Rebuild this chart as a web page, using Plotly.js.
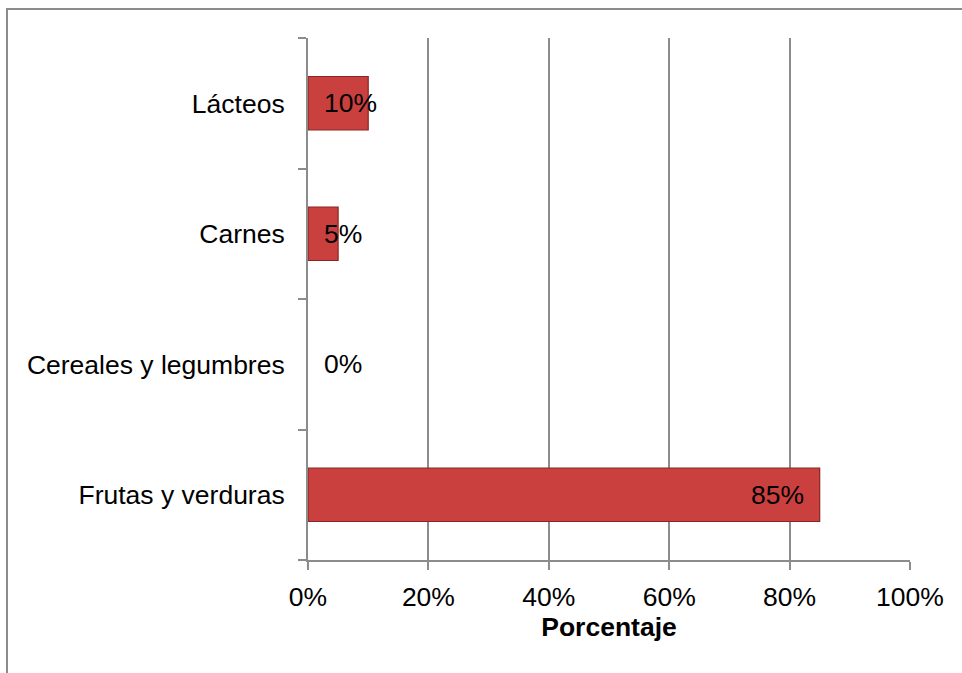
<!DOCTYPE html>
<html>
<head>
<meta charset="utf-8">
<script src="https://cdn.plot.ly/plotly-3.0.1.min.js"></script>
<style>
html,body{margin:0;padding:0;overflow:hidden;background:#fff;}
#chart{width:962px;height:673px;position:relative;}
#frame{position:absolute;left:6px;top:8px;width:1200px;height:1200px;border-left:2px solid #8c8c8c;border-top:2px solid #8c8c8c;pointer-events:none;}
</style>
</head>
<body>
<div id="chart"></div>
<div id="frame"></div>
<script>
const categories = ["Frutas y verduras", "Cereales y legumbres", "Carnes", "Lácteos"];
const values = [85, 0, 5, 10];
const labels = ["85%", "0%", "5%", "10%"];
const xTicks = [0, 20, 40, 60, 80, 100];
const xTickText = ["0%", "20%", "40%", "60%", "80%", "100%"];

const FONT = "Liberation Sans, Arial, sans-serif";
const FS = 26.5;

const trace = {
  type: "bar",
  orientation: "h",
  y: categories,
  x: values,
  marker: {
    color: "rgb(202,64,62)",
    line: {color: "rgb(135,38,36)", width: values.map(v => v > 0 ? 1.2 : 0)}
  },
  hoverinfo: "none"
};

const annotations = values.map((v, i) => (v >= 50 ? {
  x: v, y: categories[i], xref: "x", yref: "y", text: labels[i],
  showarrow: false, xanchor: "right", xshift: -14,
  font: {family: FONT, size: FS, color: "#000"}
} : {
  x: 0, y: categories[i], xref: "x", yref: "y", text: labels[i],
  showarrow: false, xanchor: "left", xshift: 14,
  font: {family: FONT, size: FS, color: "#000"}
}));

const layout = {
  width: 962, height: 673,
  margin: {l: 308, r: 52, t: 38, b: 113, autoexpand: false},
  paper_bgcolor: "#fff", plot_bgcolor: "#fff",
  font: {family: FONT, size: FS, color: "#000"},
  showlegend: false,
  bargap: 0.59,
  xaxis: {
    range: [0, 100], tickvals: xTicks, ticktext: xTickText,
    showgrid: true, gridcolor: "#8c8c8c", gridwidth: 2,
    showline: true, linecolor: "#8c8c8c", linewidth: 2,
    ticks: "outside", ticklen: 8, tickwidth: 2, tickcolor: "#8c8c8c",
    ticklabelstandoff: 4,
    zeroline: false, automargin: false, fixedrange: true,
    title: {text: "<b>Porcentaje</b>", font: {size: FS, family: FONT}, standoff: 2}
  },
  yaxis: {
    type: "category", categoryorder: "array", categoryarray: categories,
    tickson: "boundaries",
    showgrid: false, showline: true, linecolor: "#8c8c8c", linewidth: 2,
    ticks: "outside", ticklen: 8, tickwidth: 2, tickcolor: "#8c8c8c",
    ticklabelstandoff: 16,
    zeroline: false, automargin: false, fixedrange: true
  },
  annotations: annotations
};

Plotly.newPlot("chart", [trace], layout, {displayModeBar: false, staticPlot: true});
</script>
</body>
</html>
